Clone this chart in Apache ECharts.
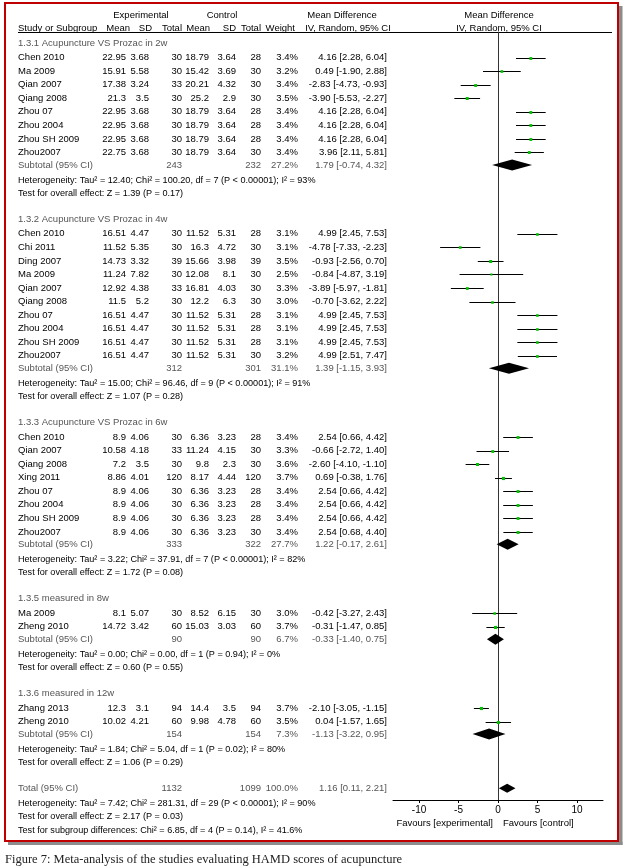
<!DOCTYPE html>
<html><head><meta charset="utf-8">
<script src="https://cdn.jsdelivr.net/npm/echarts@6/dist/echarts.min.js"></script>
<style>html,body{margin:0;padding:0;background:#fff}#c{width:624px;height:868px}</style>
</head><body><div id="c"></div>
<script>
// ---------------- data ----------------
const groupTitles = ['1.3.1 Acupuncture VS Prozac in 2w','1.3.2 Acupuncture VS Prozac in 4w','1.3.3 Acupuncture VS Prozac in 6w','1.3.5 measured in 8w','1.3.6 measured in 12w'];
const studyNames = [
 ['Chen 2010','Ma 2009','Qian 2007','Qiang 2008','Zhou 07','Zhou 2004','Zhou SH 2009','Zhou2007'],
 ['Chen 2010','Chi 2011','Ding 2007','Ma 2009','Qian 2007','Qiang 2008','Zhou 07','Zhou 2004','Zhou SH 2009','Zhou2007'],
 ['Chen 2010','Qian 2007','Qiang 2008','Xing 2011','Zhou 07','Zhou 2004','Zhou SH 2009','Zhou2007'],
 ['Ma 2009','Zheng 2010'],
 ['Zhang 2013','Zheng 2010']
];
const expMean = [
 [22.95,15.91,17.38,21.3,22.95,22.95,22.95,22.75],
 [16.51,11.52,14.73,11.24,12.92,11.5,16.51,16.51,16.51,16.51],
 [8.9,10.58,7.2,8.86,8.9,8.9,8.9,8.9],
 [8.1,14.72],
 [12.3,10.02]
];
const expSD = [
 [3.68,5.58,3.24,3.5,3.68,3.68,3.68,3.68],
 [4.47,5.35,3.32,7.82,4.38,5.2,4.47,4.47,4.47,4.47],
 [4.06,4.18,3.5,4.01,4.06,4.06,4.06,4.06],
 [5.07,3.42],
 [3.1,4.21]
];
const expN = [
 [30,30,33,30,30,30,30,30],
 [30,30,39,30,33,30,30,30,30,30],
 [30,33,30,120,30,30,30,30],
 [30,60],
 [94,60]
];
const ctlMean = [
 [18.79,15.42,20.21,25.2,18.79,18.79,18.79,18.79],
 [11.52,16.3,15.66,12.08,16.81,12.2,11.52,11.52,11.52,11.52],
 [6.36,11.24,9.8,8.17,6.36,6.36,6.36,6.36],
 [8.52,15.03],
 [14.4,9.98]
];
const ctlSD = [
 [3.64,3.69,4.32,2.9,3.64,3.64,3.64,3.64],
 [5.31,4.72,3.98,8.1,4.03,6.3,5.31,5.31,5.31,5.31],
 [3.23,4.15,2.3,4.44,3.23,3.23,3.23,3.23],
 [6.15,3.03],
 [3.5,4.78]
];
const ctlN = [
 [28,30,30,30,28,28,28,30],
 [28,30,39,30,30,30,28,28,28,30],
 [28,30,30,120,28,28,28,30],
 [30,60],
 [94,60]
];
const weights = [
 [3.4,3.2,3.4,3.5,3.4,3.4,3.4,3.4],
 [3.1,3.1,3.5,2.5,3.3,3.0,3.1,3.1,3.1,3.2],
 [3.4,3.3,3.6,3.7,3.4,3.4,3.4,3.4],
 [3.0,3.7],
 [3.7,3.5]
];
const mdEst = [
 [4.16,0.49,-2.83,-3.90,4.16,4.16,4.16,3.96],
 [4.99,-4.78,-0.93,-0.84,-3.89,-0.70,4.99,4.99,4.99,4.99],
 [2.54,-0.66,-2.60,0.69,2.54,2.54,2.54,2.54],
 [-0.42,-0.31],
 [-2.10,0.04]
];
const mdLow = [
 [2.28,-1.90,-4.73,-5.53,2.28,2.28,2.28,2.11],
 [2.45,-7.33,-2.56,-4.87,-5.97,-3.62,2.45,2.45,2.45,2.51],
 [0.66,-2.72,-4.10,-0.38,0.66,0.66,0.66,0.68],
 [-3.27,-1.47],
 [-3.05,-1.57]
];
const mdHigh = [
 [6.04,2.88,-0.93,-2.27,6.04,6.04,6.04,5.81],
 [7.53,-2.23,0.70,3.19,-1.81,2.22,7.53,7.53,7.53,7.47],
 [4.42,1.40,-1.10,1.76,4.42,4.42,4.42,4.40],
 [2.43,0.85],
 [-1.15,1.65]
];
const subExpN = [243,312,333,90,154];
const subCtlN = [232,301,322,90,154];
const subWeight = [27.2,31.1,27.7,6.7,7.3];
const subEst = [1.79,1.39,1.22,-0.33,-1.13];
const subLow = [-0.74,-1.15,-0.17,-1.40,-3.22];
const subHigh = [4.32,3.93,2.61,0.75,0.95];
const hetTau2 = [12.40,15.00,3.22,0.00,1.84];
const hetChi2 = [100.20,96.46,37.91,0.00,5.04];
const hetDf = [7,9,7,1,1];
const hetP = ['< 0.00001','< 0.00001','< 0.00001','= 0.94','= 0.02'];
const hetI2 = [93,91,82,0,80];
const testZ = [1.39,1.07,1.72,0.60,1.06];
const testP = [0.17,0.28,0.08,0.55,0.29];
const totalN = [1132,1099];
const totalWeight = 100.0;
const totalMD = [1.16,0.11,2.21];
const totalHet = [7.42,281.31,29,'< 0.00001',90];
const totalTest = [2.17,0.03];
const subgroupDiff = [6.85,4,0.14,41.6];
const xTicks = [-10,-5,0,5,10];

// ---------------- layout / styles ----------------
const FF = '"Liberation Sans", Arial, sans-serif';
const FONT = '9.5px ' + FF;
const FONT_NOTE = '9.1px ' + FF;
const BLACK = '#000', GRAY = '#555';
const PITCH = 13.55, Y0 = 43, GRID_TOP = 32, AXIS_Y = 800, XMAX = 13.3;
const COL = {name:18, em:126, esd:149, en:182, cm:209, csd:236, cn:261, w:298, ci:387};

const f2 = v => v.toFixed(2);
const ciText = (e,l,h) => `${f2(e)} [${f2(l)}, ${f2(h)}]`;
const hetText = (t,c,d,p,i) => `Heterogeneity: Tau² = ${f2(t)}; Chi² = ${f2(c)}, df = ${d} (P ${p}); I² = ${i}%`;
const testText = (z,p) => `Test for overall effect: Z = ${f2(z)} (P = ${f2(p)})`;
const L = (text,x,color,font) => ({text,x,align:'left',color:color||BLACK,font:font||FONT});
const R = (text,x,color) => ({text,x,align:'right',color:color||BLACK,font:FONT});
const C = (text,x,color) => ({text,x,align:'center',color:color||BLACK,font:FONT});

const rows = [];
const forest = [];
rows.push({k:(15-Y0)/PITCH, cells:[C('Experimental',141),C('Control',222),C('Mean Difference',342),C('Mean Difference',499)]});
rows.push({k:(28-Y0)/PITCH, cells:[L('Study or Subgroup',COL.name),R('Mean',130),R('SD',152),R('Total',182),R('Mean',210),R('SD',236),R('Total',261),R('Weight',295),C('IV, Random, 95% CI',348),C('IV, Random, 95% CI',499)]});

let k = 0;
groupTitles.forEach((title,g) => {
  rows.push({k, cells:[L(title,COL.name,GRAY)]});
  const n = studyNames[g].length;
  for (let i=0;i<n;i++){
    const ks = k + 1.08 + i;
    rows.push({k:ks, cells:[
      L(studyNames[g][i],COL.name), R(String(expMean[g][i]),COL.em), R(String(expSD[g][i]),COL.esd), R(String(expN[g][i]),COL.en),
      R(String(ctlMean[g][i]),COL.cm), R(String(ctlSD[g][i]),COL.csd), R(String(ctlN[g][i]),COL.cn),
      R(weights[g][i].toFixed(1)+'%',COL.w), R(ciText(mdEst[g][i],mdLow[g][i],mdHigh[g][i]),COL.ci)
    ]});
    forest.push([mdLow[g][i], mdHigh[g][i], mdEst[g][i], ks, weights[g][i], 0]);
  }
  const kSub = k + n + 1;
  rows.push({k:kSub, cells:[L('Subtotal (95% CI)',COL.name,GRAY), R(String(subExpN[g]),COL.en,GRAY), R(String(subCtlN[g]),COL.cn,GRAY),
    R(subWeight[g].toFixed(1)+'%',COL.w,GRAY), R(ciText(subEst[g],subLow[g],subHigh[g]),COL.ci,GRAY)]});
  forest.push([subLow[g], subHigh[g], subEst[g], kSub, subWeight[g], 1]);
  rows.push({k:kSub+1.15, cells:[L(hetText(hetTau2[g],hetChi2[g],hetDf[g],hetP[g],hetI2[g]),COL.name,BLACK,FONT_NOTE)]});
  rows.push({k:kSub+2.1, cells:[L(testText(testZ[g],testP[g]),COL.name,BLACK,FONT_NOTE)]});
  k = kSub + 4;
});
rows.push({k, cells:[L('Total (95% CI)',COL.name,GRAY), R(String(totalN[0]),COL.en,GRAY), R(String(totalN[1]),COL.cn,GRAY),
  R(totalWeight.toFixed(1)+'%',COL.w,GRAY), R(ciText(totalMD[0],totalMD[1],totalMD[2]),COL.ci,GRAY)]});
forest.push([totalMD[1], totalMD[2], totalMD[0], k, totalWeight, 2]);
rows.push({k:k+1.15, cells:[L(hetText(...totalHet),COL.name,BLACK,FONT_NOTE)]});
rows.push({k:k+2.1, cells:[L(testText(totalTest[0],totalTest[1]),COL.name,BLACK,FONT_NOTE)]});
rows.push({k:k+3.1, cells:[L(`Test for subgroup differences: Chi² = ${f2(subgroupDiff[0])}, df = ${subgroupDiff[1]} (P = ${f2(subgroupDiff[2])}), I² = ${subgroupDiff[3].toFixed(1)}%`,COL.name,BLACK,FONT_NOTE)]});

const chart = echarts.init(document.getElementById('c'), null, {renderer:'canvas'});
chart.setOption({
  animation:false,
  backgroundColor:'#fff',
  grid:{left:393, right:21, top:GRID_TOP, bottom:868-AXIS_Y},
  xAxis:{type:'value', min:-XMAX, max:XMAX,
    axisLine:{onZero:false, lineStyle:{color:'#000', width:1}},
    axisTick:{customValues:xTicks, length:3, lineStyle:{color:'#000'}},
    axisLabel:{customValues:xTicks, color:'#000', fontSize:10, fontFamily:FF, margin:5},
    splitLine:{show:false}},
  yAxis:{type:'value', inverse:true, min:(GRID_TOP-Y0)/PITCH, max:(AXIS_Y-Y0)/PITCH,
    axisLine:{show:true, onZero:true, lineStyle:{color:'#333', width:1}},
    axisTick:{show:false}, axisLabel:{show:false}, splitLine:{show:false}},
  series:[
    {type:'custom', silent:true, clip:false, data:forest, encode:{x:[0,1,2], y:3},
     renderItem:(params, api) => {
       const lo=api.value(0), hi=api.value(1), est=api.value(2), kk=api.value(3), w=api.value(4), kind=api.value(5);
       const pL=api.coord([lo,kk]), pR=api.coord([hi,kk]), pE=api.coord([est,kk]);
       if (kind===0){
         const y=Math.round(pE[1])+0.5, s=w*0.85;
         return {type:'group', children:[
           {type:'line', shape:{x1:pL[0], y1:y, x2:pR[0], y2:y}, style:{stroke:'#000', lineWidth:1}},
           {type:'rect', shape:{x:pE[0]-s/2, y:y-s/2, width:s, height:s}, style:{fill:'#00c000'}}
         ]};
       }
       const h = kind===1 ? 5.5 : 4.5;
       return {type:'polygon', shape:{points:[[pL[0],pE[1]],[pE[0],pE[1]-h],[pR[0],pE[1]],[pE[0],pE[1]+h]]}, style:{fill:'#000'}};
     }},
    {type:'custom', silent:true, clip:false, data:rows.map((r,i)=>[0,r.k,i]), encode:{x:0, y:1},
     renderItem:(params, api) => {
       const r = rows[api.value(2)];
       const y = api.coord([0, api.value(1)])[1];
       return {type:'group', children:r.cells.map(c => ({type:'text', x:c.x, y:y,
         style:{text:c.text, fill:c.color, font:c.font, align:c.align, verticalAlign:'middle'}}))};
     }}
  ],
  graphic:[
    {type:'rect', shape:{x:619, y:6, width:3.5, height:839}, style:{fill:'#8c8c8c'}, silent:true},
    {type:'rect', shape:{x:8, y:842, width:614.5, height:3}, style:{fill:'#8c8c8c'}, silent:true},
    {type:'rect', shape:{x:5, y:3, width:613, height:838}, style:{fill:'none', stroke:'#c00000', lineWidth:2}, silent:true},
    {type:'line', shape:{x1:18, y1:32.5, x2:612, y2:32.5}, style:{stroke:'#000', lineWidth:1}, silent:true},
    {type:'text', x:493, y:823, style:{text:'Favours [experimental]', font:FONT, fill:'#000', align:'right', verticalAlign:'middle'}, silent:true},
    {type:'text', x:503, y:823, style:{text:'Favours [control]', font:FONT, fill:'#000', align:'left', verticalAlign:'middle'}, silent:true},
    {type:'text', x:5, y:860, style:{text:'Figure 7: Meta-analysis of the studies evaluating HAMD scores of acupuncture', font:'12.5px "Liberation Serif", "Times New Roman", serif', fill:'#222', align:'left', verticalAlign:'middle'}, silent:true}
  ]
});
</script></body></html>
